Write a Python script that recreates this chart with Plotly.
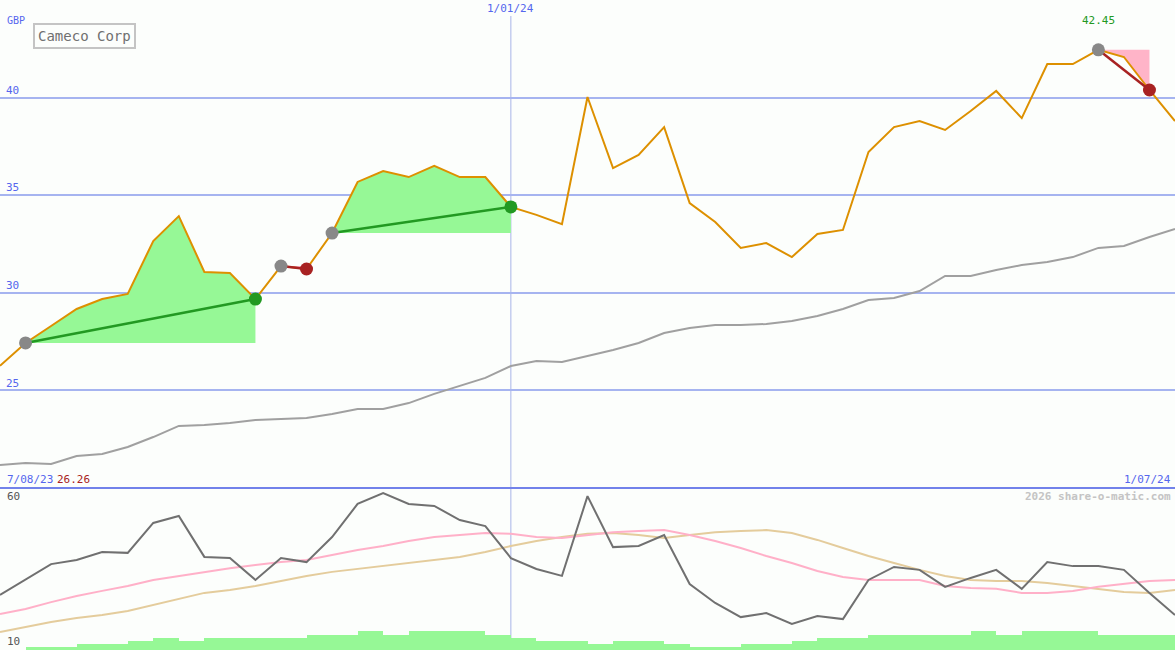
import plotly.graph_objects as go

# ---------------- data ----------------
date_labels = ["7/08/23", "1/01/24", "1/07/24"]
date_label_index = [0, 20, 46]
stock_name = "Cameco Corp"
currency = "GBP"

price = [26.26, 27.43, 28.30, 29.17, 29.68, 29.94, 32.65, 33.93, 31.07, 31.01,
         29.68, 31.37, 31.22, 33.06, 35.68, 36.24, 35.93, 36.50, 35.93, 35.93,
         34.40, 33.99, 33.52, 40.03, 36.39, 37.06, 38.49, 34.60, 33.63, 32.30,
         32.55, 31.83, 33.01, 33.22, 37.21, 38.49, 38.80, 38.34, 39.31, 40.34,
         38.95, 41.72, 41.72, 42.45, 42.08, 40.39, 38.80]

moving_avg = [21.18, 21.28, 21.23, 21.64, 21.74, 22.10, 22.61, 23.18, 23.23, 23.33,
              23.48, 23.53, 23.59, 23.79, 24.05, 24.05, 24.35, 24.82, 25.23, 25.64,
              26.25, 26.51, 26.46, 26.76, 27.07, 27.43, 27.94, 28.20, 28.35, 28.35,
              28.40, 28.56, 28.81, 29.17, 29.63, 29.73, 30.09, 30.86, 30.86, 31.17,
              31.42, 31.58, 31.83, 32.30, 32.40, 32.86, 33.27]

oscillator = [26.0, 31.5, 36.7, 38.1, 40.9, 40.6, 51.0, 53.4, 39.2, 38.8,
              31.2, 38.8, 37.4, 46.1, 57.6, 61.4, 57.6, 56.9, 52.0, 49.9,
              38.8, 35.0, 32.6, 60.3, 42.6, 43.0, 46.8, 29.8, 23.2, 18.3,
              19.7, 15.9, 18.7, 17.6, 31.2, 35.7, 34.7, 28.8, 31.9, 34.7,
              28.1, 37.4, 36.0, 36.0, 34.7, 26.7, 19.0]

osc_fast_avg = [19.4, 21.1, 23.5, 25.6, 27.4, 29.1, 31.2, 32.6, 34.0, 35.3,
                36.4, 37.4, 38.1, 39.9, 41.6, 43.0, 44.7, 46.1, 46.8, 47.5,
                47.2, 46.1, 45.8, 46.8, 47.8, 48.2, 48.5, 46.8, 44.7, 42.3,
                39.5, 37.1, 34.3, 32.2, 31.2, 31.2, 31.2, 29.1, 28.4, 28.1,
                26.7, 26.7, 27.4, 28.8, 29.8, 30.8, 31.2]

osc_slow_avg = [13.1, 14.9, 16.6, 18.0, 19.0, 20.4, 22.5, 24.6, 26.7, 27.7,
                29.1, 30.8, 32.6, 34.0, 35.0, 36.0, 37.1, 38.1, 39.2, 40.9,
                43.0, 44.7, 46.1, 47.2, 47.5, 46.8, 45.8, 46.8, 47.8, 48.2,
                48.5, 47.5, 45.1, 42.3, 39.5, 37.1, 34.7, 32.6, 31.2, 30.8,
                30.8, 30.1, 29.1, 28.1, 27.0, 26.7, 27.7]

volume = [0, 1, 1, 2, 2, 3, 4, 3, 4, 4,
          4, 4, 5, 5, 6.3, 5, 6.3, 6.3, 6.3, 5,
          4, 3, 3, 2, 3, 3, 2, 1, 1, 2,
          2, 3, 4, 4, 5, 5, 5, 5, 6.3, 5,
          6.3, 6.3, 6.3, 5, 5, 5]

gain_segments = [(1, 10), (13, 20)]
loss_segments = [(11, 12), (43, 45)]
price_ticks = [25, 30, 35, 40]
osc_labels = [60, 10]
peak_index = 43

# ---------------- styling ----------------
FONT = "DejaVu Sans Mono"
BG = "#fcfefc"
BLUE_TXT = "#5566ee"
GRID = "#a6b4f0"
ORANGE = "#dd9000"
GREEN_FILL = "#96f896"
GREEN_LINE = "#229922"
PINK_FILL = "#ffb4c8"
RED = "#a82222"

x = list(range(len(price)))
fig = go.Figure()

# fills for gain / loss segments
for segs, col in ((gain_segments, GREEN_FILL), (loss_segments, PINK_FILL)):
    for a, b in segs:
        xs = x[a:b + 1] + [x[b], x[a]]
        ys = price[a:b + 1] + [price[a], price[a]]
        fig.add_trace(go.Scatter(x=xs, y=ys, fill="toself", fillcolor=col,
                                 mode="lines", line=dict(width=0),
                                 hoverinfo="skip", showlegend=False))

# moving average
fig.add_trace(go.Scatter(x=x, y=moving_avg, mode="lines",
                         line=dict(color="#a0a0a0", width=2), showlegend=False))
# price
fig.add_trace(go.Scatter(x=x, y=price, mode="lines",
                         line=dict(color=ORANGE, width=2), showlegend=False))

# segment lines and markers
for segs, col in ((gain_segments, GREEN_LINE), (loss_segments, RED)):
    for a, b in segs:
        fig.add_trace(go.Scatter(x=[x[a], x[b]], y=[price[a], price[b]], mode="lines",
                                 line=dict(color=col, width=2.5), showlegend=False))
for segs, col in ((gain_segments, GREEN_LINE), (loss_segments, RED)):
    for a, b in segs:
        fig.add_trace(go.Scatter(x=[x[a]], y=[price[a]], mode="markers",
                                 marker=dict(color="#888888", size=13, line=dict(width=0)),
                                 showlegend=False))
        fig.add_trace(go.Scatter(x=[x[b]], y=[price[b]], mode="markers",
                                 marker=dict(color=col, size=13, line=dict(width=0)),
                                 showlegend=False))

# lower panel
fig.add_trace(go.Bar(x=[i + 0.5 for i in range(len(volume))], y=volume, width=1,
                     marker=dict(color=GREEN_FILL, line=dict(width=0)),
                     yaxis="y3", showlegend=False))
fig.add_trace(go.Scatter(x=x, y=osc_slow_avg, mode="lines", yaxis="y2",
                         line=dict(color="#e4cc9c", width=2), showlegend=False))
fig.add_trace(go.Scatter(x=x, y=osc_fast_avg, mode="lines", yaxis="y2",
                         line=dict(color="#ffb0c8", width=2), showlegend=False))
fig.add_trace(go.Scatter(x=x, y=oscillator, mode="lines", yaxis="y2",
                         line=dict(color="#707070", width=2), showlegend=False))

split = 1 - 488 / 650

fig.update_layout(
    width=1175, height=650,
    margin=dict(l=0, r=0, t=0, b=0),
    paper_bgcolor=BG, plot_bgcolor=BG,
    bargap=0,
    font=dict(family=FONT, size=11),
    xaxis=dict(range=[0, len(price) - 1], showgrid=False, zeroline=False,
               showticklabels=False, ticks="", fixedrange=True),
    yaxis=dict(domain=[split, 1], range=[20, 45], tickvals=price_ticks,
               showgrid=True, gridcolor=GRID, gridwidth=2, zeroline=False,
               ticklabelposition="inside top", ticks="", ticklabelstandoff=3,
               tickfont=dict(color=BLUE_TXT, size=11, family=FONT)),
    yaxis2=dict(domain=[0, split], range=[6.875, 63.125], showgrid=False,
                zeroline=False, showticklabels=False, ticks=""),
    yaxis3=dict(overlaying="y2", range=[0, 54], showgrid=False, zeroline=False,
                showticklabels=False, ticks=""),
    showlegend=False,
)

# vertical date line and panel separator
fig.add_shape(type="line", xref="x", yref="paper", x0=date_label_index[1],
              x1=date_label_index[1], y0=0, y1=1 - 16 / 650,
              line=dict(color="#a8b4e8", width=1), layer="below")
fig.add_shape(type="line", xref="paper", yref="paper", x0=0, x1=1,
              y0=split, y1=split, line=dict(color="#7282ea", width=2))


def px(xp):
    return xp / 1175


def py(yp):
    return 1 - yp / 650


ann = []
ann.append(dict(x=px(5), y=py(20), text=currency, xanchor="left",
                font=dict(color=BLUE_TXT, size=10)))
ann.append(dict(x=date_label_index[1], xref="x", y=py(9), text=date_labels[1],
                xanchor="center", font=dict(color=BLUE_TXT, size=11)))
ann.append(dict(x=peak_index, xref="x", y=py(21), text=f"{price[peak_index]:.2f}",
                xanchor="center", font=dict(color="#229922", size=11)))
ann.append(dict(x=px(5), y=py(479), text=date_labels[0], xanchor="left",
                font=dict(color=BLUE_TXT, size=11)))
ann.append(dict(x=px(55), y=py(479), text=f"{price[0]:.2f}", xanchor="left",
                font=dict(color=RED, size=11)))
ann.append(dict(x=px(1173), y=py(479), text=date_labels[2], xanchor="right",
                font=dict(color=BLUE_TXT, size=11)))
ann.append(dict(x=px(1173), y=py(496), text="<b>2026 share-o-matic.com</b>",
                xanchor="right", font=dict(color="#c4c4c4", size=11)))
ann.append(dict(x=px(5), y=py(496), text=str(osc_labels[0]), xanchor="left",
                font=dict(color="#555555", size=11)))
ann.append(dict(x=px(5), y=py(641), text=str(osc_labels[1]), xanchor="left",
                font=dict(color="#555555", size=11)))
ann.append(dict(x=px(85), y=py(36), text=stock_name, xanchor="center",
                font=dict(color="#707070", size=14), bordercolor="#c4c4c4",
                borderwidth=2, borderpad=3, bgcolor=BG))
for a in ann:
    a.setdefault("xref", "paper")
    a["yref"] = "paper"
    a["yanchor"] = "middle"
    a["showarrow"] = False
    fig.add_annotation(**a)

fig.write_html("out.html", config={"displayModeBar": False},
               post_script="document.body.style.margin='0';")
